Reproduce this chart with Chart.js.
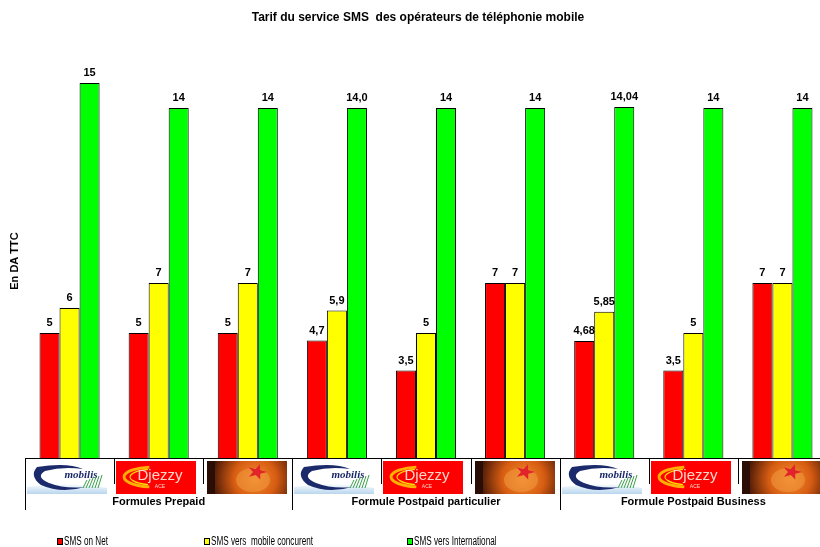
<!DOCTYPE html>
<html><head><meta charset="utf-8">
<script src="https://cdn.jsdelivr.net/npm/chart.js@4/dist/chart.umd.min.js"></script>
<style>
html,body{margin:0;padding:0;background:#fff;overflow:hidden;}
#wrap{width:820px;height:547px;overflow:hidden;position:relative;}
canvas{display:block;}
</style></head>
<body><div id="wrap"><canvas id="c" width="832" height="547"></canvas></div>
<script>
const categories = ["Mobilis","Djezzy","Nedjma","Mobilis","Djezzy","Nedjma","Mobilis","Djezzy","Nedjma"];
const groups = ["Formules Prepaid","Formule Postpaid particulier","Formule Postpaid Business"];
const seriesNames = ["SMS on Net","SMS vers  mobile concurent","SMS vers International"];
const smsOnNet = [5, 5, 5, 4.7, 3.5, 7, 4.68, 3.5, 7];
const smsConcurrent = [6, 7, 7, 5.9, 5, 7, 5.85, 5, 7];
const smsInternational = [15, 14, 14, 14.0, 14, 14, 14.04, 14, 14];
const labelsOnNet = ["5","5","5","4,7","3,5","7","4,68","3,5","7"];
const labelsConcurrent = ["6","7","7","5,9","5","7","5,85","5","7"];
const labelsInternational = ["15","14","14","14,0","14","14","14,04","14","14"];
const colors = ["#FF0000","#FFFF00","#00FF00"];
const titleText = "Tarif du service SMS  des opérateurs de téléphonie mobile";
const yTitle = "En DA TTC";

const valueLabels = [labelsOnNet, labelsConcurrent, labelsInternational];
const SANS = "Liberation Sans, Arial, sans-serif";

function drawMobilis(ctx, x, y, w, h){
  ctx.save();
  ctx.fillStyle = "#ffffff"; ctx.fillRect(x, y, w, h);
  const g = ctx.createLinearGradient(0, y+22, 0, y+h);
  g.addColorStop(0, "#ffffff"); g.addColorStop(1, "#b9d6ee");
  ctx.fillStyle = g;
  ctx.beginPath(); ctx.moveTo(x, y+26); ctx.quadraticCurveTo(x+w/2, y+20, x+w, y+27);
  ctx.lineTo(x+w, y+h); ctx.lineTo(x, y+h); ctx.closePath(); ctx.fill();
  ctx.fillStyle = "#1b2a6b";
  ctx.beginPath();
  ctx.moveTo(x+10, y+6);
  ctx.quadraticCurveTo(x+40, y+1, x+56, y+8);
  ctx.quadraticCurveTo(x+36, y+5, x+18, y+10);
  ctx.quadraticCurveTo(x+8, y+16, x+22, y+22);
  ctx.quadraticCurveTo(x+38, y+28, x+58, y+26);
  ctx.quadraticCurveTo(x+34, y+33, x+14, y+24);
  ctx.quadraticCurveTo(x+2, y+15, x+10, y+6);
  ctx.fill();
  ctx.font = "italic bold 11px 'Liberation Serif', serif";
  ctx.textAlign = "center"; ctx.textBaseline = "middle";
  ctx.fillStyle = "#1b2a6b";
  ctx.fillText("mobilis", x+54, y+14);
  ctx.strokeStyle = "#3aa048"; ctx.lineWidth = 1;
  for (let i=0;i<6;i++){ ctx.beginPath(); ctx.moveTo(x+56+i*3, y+27); ctx.lineTo(x+60+i*3, y+19-i); ctx.stroke(); }
  ctx.restore();
}
function drawDjezzy(ctx, x, y, w, h){
  ctx.save();
  ctx.fillStyle = "#ff0000"; ctx.fillRect(x, y, w, h);
  ctx.strokeStyle = "#ffb000"; ctx.lineWidth = 3;
  ctx.beginPath(); ctx.ellipse(x+38, y+16, 30, 10, 0, Math.PI*0.55, Math.PI*1.45); ctx.stroke();
  ctx.strokeStyle = "#ffe000"; ctx.lineWidth = 1.2;
  ctx.beginPath(); ctx.ellipse(x+40, y+16, 26, 8, 0, Math.PI*0.6, Math.PI*1.4); ctx.stroke();
  ctx.font = "15px " + SANS;
  ctx.textAlign = "center"; ctx.textBaseline = "middle";
  ctx.fillStyle = "#ffd5c8";
  ctx.fillText("Djezzy", x+44, y+15);
  ctx.font = "5px " + SANS; ctx.fillStyle = "#ffd5c8";
  ctx.fillText("ACE", x+44, y+26);
  ctx.restore();
}
function drawNedjma(ctx, x, y, w, h){
  ctx.save();
  const g = ctx.createRadialGradient(x+48, y+18, 2, x+48, y+18, 45);
  g.addColorStop(0, "#f28a2c"); g.addColorStop(0.45, "#d65c12"); g.addColorStop(1, "#3c1206");
  ctx.fillStyle = g; ctx.fillRect(x, y, w, h);
  ctx.fillStyle = "#2a0d05"; ctx.fillRect(x, y, 8, h);
  ctx.fillStyle = "rgba(240,150,60,0.6)";
  ctx.beginPath(); ctx.ellipse(x+46, y+19, 17, 12, 0, 0, Math.PI*2); ctx.fill();
  ctx.fillStyle = "#e0242a";
  ctx.beginPath();
  const cx = x+50, cy = y+11;
  for (let i=0;i<10;i++){
    const r = i%2===0 ? 10 : 4;
    const a = -Math.PI/2 + i*Math.PI/5 + 0.3;
    const px = cx + r*Math.cos(a), py = cy + r*Math.sin(a)*0.8;
    if (i===0) ctx.moveTo(px, py); else ctx.lineTo(px, py);
  }
  ctx.closePath(); ctx.fill();
  ctx.restore();
}

const decor = {
  id: "decor",
  afterDraw(chart){
    const ctx = chart.ctx;
    const xs = chart.scales.x;
    const ca = chart.chartArea;
    const step = xs.getPixelForValue(1) - xs.getPixelForValue(0);
    const base = ca.bottom;
    ctx.save();
    ctx.fillStyle = "#000";
    ctx.font = "bold 12px " + SANS;
    ctx.textAlign = "center"; ctx.textBaseline = "middle";
    ctx.fillText(titleText, 418, 18);
    ctx.save();
    ctx.translate(15, 261); ctx.rotate(-Math.PI/2);
    ctx.font = "bold 11px " + SANS;
    ctx.fillText(yTitle, 0, 0);
    ctx.restore();
    ctx.strokeStyle = "#000"; ctx.lineWidth = 1;
    ctx.beginPath(); ctx.moveTo(ca.left, base+0.5); ctx.lineTo(ca.right, base+0.5); ctx.stroke();
    categories.forEach((c, i) => {
      const x0 = xs.getPixelForValue(i) - step/2;
      const bx = Math.round(x0) + 2, by = base + 3, bw = 80, bh = 33;
      if (c === "Mobilis") drawMobilis(ctx, bx, by, bw, bh);
      else if (c === "Djezzy") drawDjezzy(ctx, bx, by, bw, bh);
      else drawNedjma(ctx, bx+2, by, bw, bh);
    });
    ctx.strokeStyle = "#000";
    for (let i=0;i<=categories.length;i++){
      const x = Math.round(xs.getPixelForValue(i) - step/2) + 0.5;
      const long = i%3===0;
      ctx.beginPath(); ctx.moveTo(x, base); ctx.lineTo(x, base + (long ? 52 : 26)); ctx.stroke();
    }
    ctx.font = "bold 11px " + SANS;
    ctx.fillStyle = "#000";
    groups.forEach((g, gi) => {
      const cx = xs.getPixelForValue(gi*3+1);
      ctx.fillText(g, cx, 502);
    });
    // legend (condensed text, as in the reference)
    const legX = [57, 204, 407];
    ctx.textAlign = "left";
    ctx.font = "12px " + SANS;
    seriesNames.forEach((n, i) => {
      ctx.fillStyle = colors[i];
      ctx.fillRect(legX[i]+0.5, 538.5, 5, 6);
      ctx.strokeStyle = "#000"; ctx.strokeRect(legX[i]+0.5, 538.5, 5, 6);
      ctx.fillStyle = "#000";
      ctx.save();
      ctx.translate(legX[i]+7, 542);
      ctx.scale(0.68, 1);
      ctx.fillText(n, 0, 0);
      ctx.restore();
    });
    ctx.textAlign = "center"; ctx.textBaseline = "alphabetic";
    ctx.font = "bold 11px " + SANS;
    chart.data.datasets.forEach((ds, di) => {
      const meta = chart.getDatasetMeta(di);
      meta.data.forEach((bar, j) => {
        ctx.fillText(valueLabels[di][j], bar.x, bar.y - 7);
      });
    });
    ctx.restore();
  }
};

new Chart(document.getElementById("c"), {
  type: "bar",
  data: {
    labels: categories,
    datasets: [
      { label: seriesNames[0], data: smsOnNet, backgroundColor: colors[0] },
      { label: seriesNames[1], data: smsConcurrent, backgroundColor: colors[1] },
      { label: seriesNames[2], data: smsInternational, backgroundColor: colors[2] }
    ].map(d => Object.assign(d, { borderColor: "#000", borderWidth: 1, categoryPercentage: 60/89, barPercentage: 1 }))
  },
  options: {
    responsive: false,
    animation: false,
    devicePixelRatio: 1,
    layout: { padding: { left: 25, right: 5, top: 58, bottom: 89 } },
    plugins: { legend: { display: false }, title: { display: false }, tooltip: { enabled: false } },
    scales: {
      x: { display: false },
      y: { display: false, min: 0, max: 16 }
    }
  },
  plugins: [decor]
});
</script></body></html>
